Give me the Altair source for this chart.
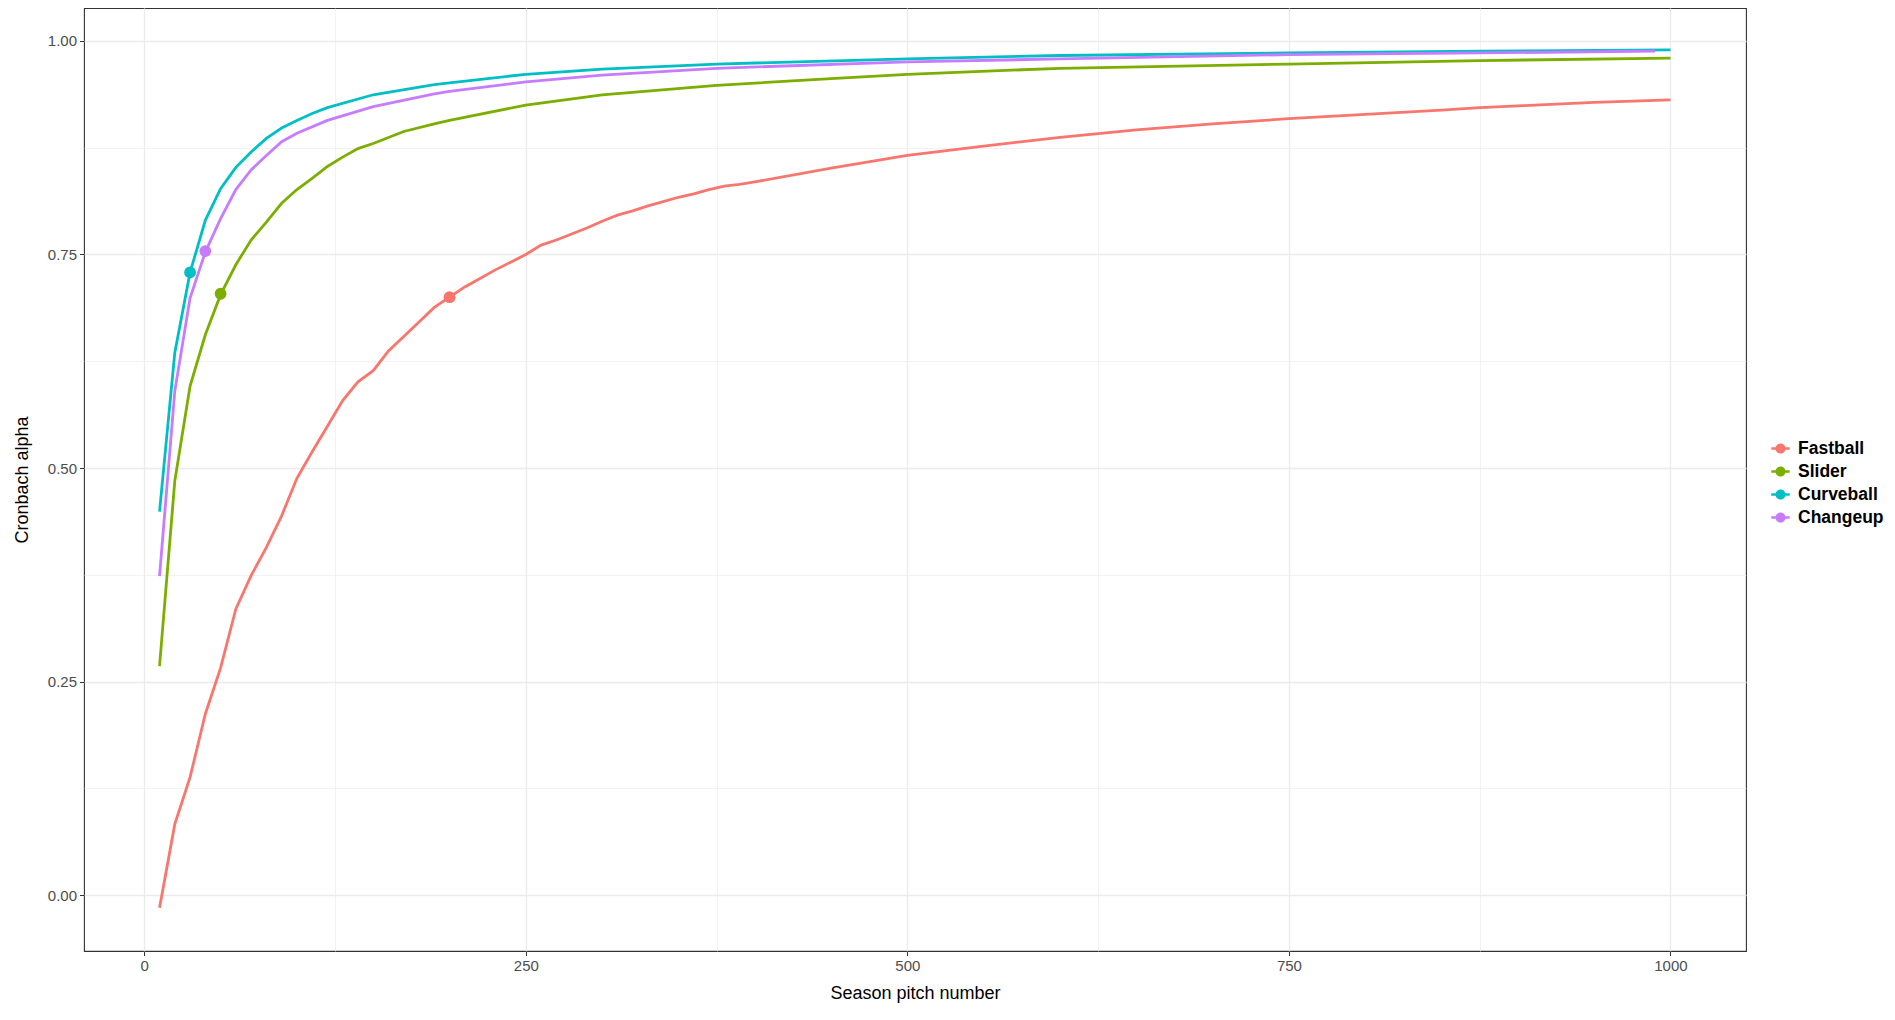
import pandas as pd
import altair as alt

# pitch types, in legend order
pitches = ["Fastball", "Slider", "Curveball", "Changeup"]
colors = ["#F8766D", "#7CAE00", "#00BFC4", "#C77CFF"]

# Cronbach alpha by season pitch number
fastball_x = [10, 20, 30, 40, 50, 60, 70, 80, 90, 100, 110, 120, 130, 140, 150, 160, 170, 180, 190, 200,
              210, 220, 230, 240, 250, 260, 270, 280, 290, 300, 310, 320, 330, 340, 350, 360, 370, 380, 390, 400,
              450, 500, 550, 600, 650, 700, 750, 800, 850, 875, 900, 950, 1000]
fastball_y = [-0.015, 0.083, 0.138, 0.212, 0.266, 0.335, 0.374, 0.407, 0.444, 0.488, 0.519, 0.549, 0.579, 0.601,
              0.614, 0.637, 0.654, 0.671, 0.688, 0.700, 0.712, 0.722, 0.732, 0.741, 0.750, 0.761, 0.767, 0.774,
              0.781, 0.789, 0.796, 0.801, 0.807, 0.812, 0.817, 0.821, 0.826, 0.830, 0.832, 0.835, 0.851, 0.866,
              0.877, 0.887, 0.896, 0.903, 0.909, 0.914, 0.919, 0.922, 0.924, 0.928, 0.931]

slider_x = [10, 20, 30, 40, 50, 60, 70, 80, 90, 100, 110, 120, 130, 140, 150, 170, 190, 200, 250, 300, 375,
            450, 500, 600, 750, 875, 1000]
slider_y = [0.268, 0.485, 0.596, 0.656, 0.703, 0.738, 0.767, 0.788, 0.810, 0.826, 0.839, 0.853, 0.864, 0.874,
            0.880, 0.894, 0.903, 0.907, 0.925, 0.937, 0.948, 0.956, 0.961, 0.968, 0.973, 0.977, 0.980]

curveball_x = [10, 20, 30, 40, 50, 60, 70, 80, 90, 100, 110, 120, 150, 190, 200, 250, 300, 375, 500, 600,
               750, 875, 1000]
curveball_y = [0.449, 0.635, 0.729, 0.790, 0.827, 0.852, 0.870, 0.886, 0.898, 0.907, 0.915, 0.922, 0.937,
               0.949, 0.951, 0.961, 0.967, 0.973, 0.979, 0.983, 0.986, 0.988, 0.9895]

changeup_x = [10, 20, 30, 40, 50, 60, 70, 80, 90, 100, 120, 150, 190, 200, 250, 300, 375, 500, 600, 750,
              875, 990]
changeup_y = [0.3735, 0.590, 0.699, 0.753, 0.792, 0.826, 0.849, 0.866, 0.882, 0.892, 0.907, 0.923, 0.938,
              0.941, 0.952, 0.960, 0.968, 0.9755, 0.979, 0.984, 0.986, 0.988]

# pitch count where each type reaches the 0.70 threshold
marker_x = [200, 50, 30, 40]
marker_y = [0.700, 0.704, 0.729, 0.754]

hex_of = dict(zip(pitches, colors))
rows = []
for name, xs, ys in [("Fastball", fastball_x, fastball_y), ("Slider", slider_x, slider_y),
                     ("Curveball", curveball_x, curveball_y), ("Changeup", changeup_x, changeup_y)]:
    for x, y in zip(xs, ys):
        rows.append({"pitch": name, "hex": hex_of[name], "n": x, "alpha": y})
df = pd.DataFrame(rows)
markers = pd.DataFrame({"pitch": pitches, "n": marker_x, "alpha": marker_y})

font = "Liberation Sans"
x_scale = alt.Scale(domain=[-39.5, 1049.5], nice=False, zero=False)
y_scale = alt.Scale(domain=[-0.0655, 1.0386], nice=False, zero=False)

x_axis = alt.Axis(
    title="Season pitch number", values=[0, 125, 250, 375, 500, 625, 750, 875, 1000],
    labelExpr="datum.value % 250 === 0 ? datum.label : ''", format="d",
    gridColor="#EBEBEB",
    gridWidth={"condition": {"test": "datum.value % 250 === 0", "value": 1.3}, "value": 0.65},
    tickOpacity={"condition": {"test": "datum.value % 250 === 0", "value": 1}, "value": 0},
    domain=False, tickColor="#333333", tickSize=4.5, tickWidth=1,
    labelColor="#4D4D4D", labelFontSize=15, labelFont=font, labelPadding=3, labelOverlap=False,
    titleFont=font, titleFontSize=18, titleFontWeight="normal", titleColor="black", titlePadding=11,
)
y_axis = alt.Axis(
    title="Cronbach alpha", values=[0, 0.125, 0.25, 0.375, 0.5, 0.625, 0.75, 0.875, 1.0],
    labelExpr="(datum.value * 4) % 1 === 0 ? datum.label : ''", format=".2f",
    gridColor="#EBEBEB",
    gridWidth={"condition": {"test": "(datum.value * 4) % 1 === 0", "value": 1.3}, "value": 0.65},
    tickOpacity={"condition": {"test": "(datum.value * 4) % 1 === 0", "value": 1}, "value": 0},
    domain=False, tickColor="#333333", tickSize=4.5, tickWidth=1,
    labelColor="#4D4D4D", labelFontSize=15, labelFont=font, labelPadding=3, labelOverlap=False,
    titleFont=font, titleFontSize=18, titleFontWeight="normal", titleColor="black", titlePadding=16,
)

# legend key: a short line with a dot on it, like ggplot's line+point key
key_shape = ("M-1,-0.14 L1,-0.14 L1,0.14 L-1,0.14 Z "
             "M0.55,0 A0.55,0.55 0 1,1 -0.55,0 A0.55,0.55 0 1,1 0.55,0 Z")

# lines take their colour straight from the hex column, so only the points carry a legend
lines = alt.Chart(df).mark_line(strokeWidth=2.8).encode(
    x=alt.X("n:Q", scale=x_scale, axis=x_axis),
    y=alt.Y("alpha:Q", scale=y_scale, axis=y_axis),
    stroke=alt.Stroke("hex:N", scale=None),
    detail="pitch:N",
)

points = alt.Chart(markers).mark_point(filled=True, size=140, opacity=1).encode(
    x=alt.X("n:Q", scale=x_scale),
    y=alt.Y("alpha:Q", scale=y_scale),
    color=alt.Color("pitch:N", scale=alt.Scale(domain=pitches, range=colors), legend=alt.Legend(
        title=None, orient="none", legendX=1687, legendY=431,
        symbolType=key_shape, symbolSize=340, symbolStrokeWidth=0, symbolOpacity=1,
        labelFont=font, labelFontSize=17.5, labelFontWeight="bold", labelColor="black",
        labelOffset=8, rowPadding=5, padding=0,
    )),
)

chart = alt.layer(lines, points).properties(
    width=1662, height=943,
    autosize=alt.AutoSizeParams(type="none"),
    padding={"left": 76, "top": 0, "right": 141, "bottom": 61},
    background="white",
).configure_view(stroke="#333333", strokeWidth=1.1)

chart.save("out.html", embed_options={"renderer": "svg", "actions": False})
